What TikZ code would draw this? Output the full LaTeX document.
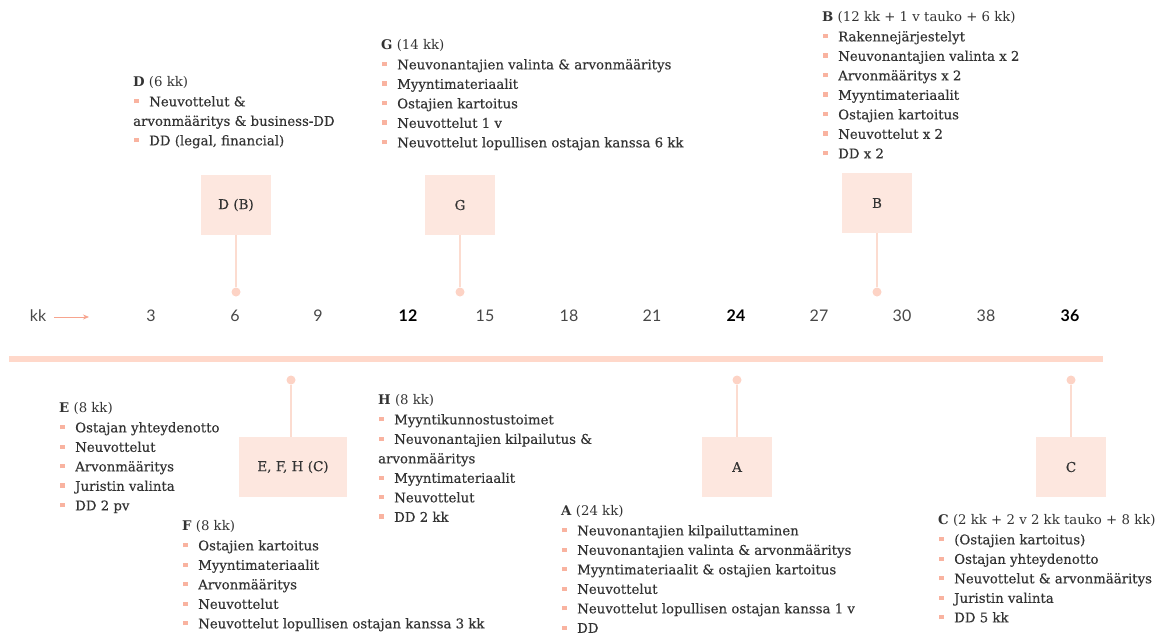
\documentclass[tikz,border=0pt]{standalone}
\usepackage{fontspec}
\setmainfont{DejaVu Serif}
\newfontfamily\itf[FakeBold=0.3]{DejaVu Serif}
\newfontfamily\axisfont{Lato}
\usetikzlibrary{arrows.meta}
\definecolor{boxcol}{HTML}{FDE7DF}
\definecolor{axcol}{HTML}{FFD8CA}
\definecolor{dotcol}{HTML}{FDD3C5}
\definecolor{stemcol}{HTML}{FCDCD0}
\definecolor{bulcol}{HTML}{F9B3A0}
\definecolor{arrcol}{HTML}{F7A48E}
\definecolor{txtcol}{HTML}{333333}
\newcommand{\bul}{\hspace{1pt}\textcolor{bulcol}{\rule[0.22em]{0.33em}{0.33em}}\hspace{0.8em}}
\newcommand{\li}[1]{\bul{\itf #1}}
\begin{document}
\begin{tikzpicture}[x=1pt,y=1pt,
  blk/.style={anchor=north west,inner sep=0pt,align=left,text=txtcol,
    font={\fontsize{13.3}{19.5}\selectfont}},
  evbox/.style={fill=boxcol,minimum width=70pt,minimum height=60pt,inner sep=0pt,
    text=txtcol,font={\itf\fontsize{13.5}{15}\selectfont}},
  dotn/.style={circle,fill=dotcol,minimum size=9pt,inner sep=0pt},
  stem/.style={draw=stemcol,line width=1.2pt},
  axnum/.style={text=txtcol!90,font={\axisfont\fontsize{16}{18}\selectfont}},
  axbold/.style={text=black,font={\axisfont\bfseries\fontsize{16}{18}\selectfont}}
]
\useasboundingbox (0,0) rectangle (1166,-635);
% axis
\coordinate (axl) at (9,-359);
\coordinate (axr) at (1103,-359);
\draw[axcol,line width=6pt] (axl) -- (axr);
\node[axnum] (kk) at (38,-316) {kk};
\coordinate (arrs) at (54,-317);
\coordinate (arre) at (89,-317);
\draw[arrcol,line width=0.8pt,-{Stealth[length=6pt,width=5pt]}] (arrs) -- (arre);
\node[axnum] (n3) at (151,-316) {3};
\node[axnum] (n6) at (235,-316) {6};
\node[axnum] (n9) at (318,-316) {9};
\node[axbold] (n12) at (408,-316) {12};
\node[axnum] (n15) at (485,-316) {15};
\node[axnum] (n18) at (569,-316) {18};
\node[axnum] (n21) at (652,-316) {21};
\node[axbold] (n24) at (736,-316) {24};
\node[axnum] (n27) at (819,-316) {27};
\node[axnum] (n30) at (902,-316) {30};
\node[axnum] (n38) at (986,-316) {38};
\node[axbold] (n36) at (1070,-316) {36};
% upper events
\node[evbox] (bD) at (236,-205) {D (B)};
\node[dotn] (dD) at (236,-292) {};
\draw[stem] (bD.south) -- (dD);
\node[evbox] (bG) at (460,-205) {G};
\node[dotn] (dG) at (460,-292) {};
\draw[stem] (bG.south) -- (dG);
\node[evbox] (bB) at (877,-203) {B};
\node[dotn] (dB) at (877,-292) {};
\draw[stem] (bB.south) -- (dB);
% lower events
\node[evbox,minimum width=108pt] (bE) at (293,-467) {E, F, H (C)};
\node[dotn] (dE) at (291,-380) {};
\draw[stem] (dE) -- (dE |- bE.north);
\node[evbox] (bA) at (737,-467) {A};
\node[dotn] (dA) at (737,-380) {};
\draw[stem] (dA) -- (bA.north);
\node[evbox] (bC) at (1071,-467) {C};
\node[dotn] (dC) at (1071,-380) {};
\draw[stem] (dC) -- (bC.north);
% text blocks
\node[blk] (tD) at (133,-76.5) {\textbf{D} (6 kk)\\ \li{Neuvottelut \&}\\ {\itf arvonmääritys \& business-DD}\\ \li{DD (legal, financial)}};
\node[blk] (tG) at (381,-39.5) {\textbf{G} (14 kk)\\ \li{Neuvonantajien valinta \& arvonmääritys}\\ \li{Myyntimateriaalit}\\ \li{Ostajien kartoitus}\\ \li{Neuvottelut 1 v}\\ \li{Neuvottelut lopullisen ostajan kanssa 6 kk}};
\node[blk] (tB) at (822,-11.5) {\textbf{B} (12 kk + 1 v tauko + 6 kk)\\ \li{Rakennejärjestelyt}\\ \li{Neuvonantajien valinta x 2}\\ \li{Arvonmääritys x 2}\\ \li{Myyntimateriaalit}\\ \li{Ostajien kartoitus}\\ \li{Neuvottelut x 2}\\ \li{DD x 2}};
\node[blk] (tE) at (59,-402.5) {\textbf{E} (8 kk)\\ \li{Ostajan yhteydenotto}\\ \li{Neuvottelut}\\ \li{Arvonmääritys}\\ \li{Juristin valinta}\\ \li{DD 2 pv}};
\node[blk] (tF) at (182,-520.5) {\textbf{F} (8 kk)\\ \li{Ostajien kartoitus}\\ \li{Myyntimateriaalit}\\ \li{Arvonmääritys}\\ \li{Neuvottelut}\\ \li{Neuvottelut lopullisen ostajan kanssa 3 kk}};
\node[blk] (tH) at (378,-394.5) {\textbf{H} (8 kk)\\ \li{Myyntikunnostustoimet}\\ \li{Neuvonantajien kilpailutus \&}\\ {\itf arvonmääritys}\\ \li{Myyntimateriaalit}\\ \li{Neuvottelut}\\ \li{DD 2 kk}};
\node[blk] (tA) at (561,-505.5) {\textbf{A} (24 kk)\\ \li{Neuvonantajien kilpailuttaminen}\\ \li{Neuvonantajien valinta \& arvonmääritys}\\ \li{Myyntimateriaalit \& ostajien kartoitus}\\ \li{Neuvottelut}\\ \li{Neuvottelut lopullisen ostajan kanssa 1 v}\\ \li{DD}};
\node[blk] (tC) at (938,-514.5) {\textbf{C} (2 kk + 2 v 2 kk tauko + 8 kk)\\ \li{(Ostajien kartoitus)}\\ \li{Ostajan yhteydenotto}\\ \li{Neuvottelut \& arvonmääritys}\\ \li{Juristin valinta}\\ \li{DD 5 kk}};
\end{tikzpicture}
\end{document}
